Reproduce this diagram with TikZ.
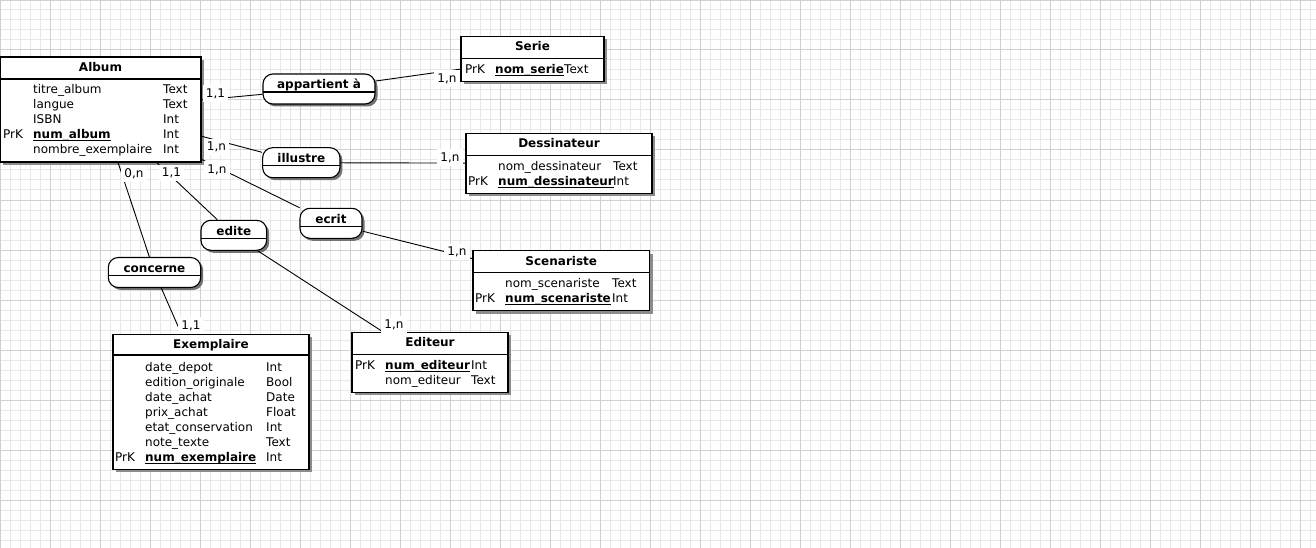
\documentclass[tikz,border=0pt]{standalone}
\usepackage{fontspec}
\setmainfont{DejaVu Sans}
\usetikzlibrary{shadows}
\newsavebox{\clebox}
\newcommand{\cle}[1]{\sbox{\clebox}{\textbf{#1}}\rlap{\rule[-2.4pt]{\wd\clebox}{1.1pt}}\usebox{\clebox}}
\newcommand{\attribut}[4]{\makebox[30pt][l]{#1}\makebox[#2pt][l]{#3}#4}

\begin{document}
\begin{tikzpicture}[x=1pt,y=-1pt,
  entite/.style={draw, line width=1.1pt, fill=white, inner sep=0pt,
    drop shadow={shadow xshift=3pt, shadow yshift=-3pt, fill=black!45, opacity=1}},
  assoc/.style={draw, line width=1.1pt, fill=white, rounded corners=10pt, inner sep=0pt,
    minimum height=30pt, text height=10pt, text depth=10pt,
    font=\fontsize{12}{15}\selectfont\bfseries,
    drop shadow={shadow xshift=2.5pt, shadow yshift=-2.5pt, fill=black!55, opacity=1}},
  titre/.style={anchor=base, inner sep=0pt, font=\fontsize{12}{15}\selectfont\bfseries},
  attr/.style={anchor=base west, inner sep=0pt, font=\fontsize{12}{15}\selectfont},
  card/.style={fill=white, inner xsep=3pt, inner ysep=3pt, font=\fontsize{12}{15}\selectfont},
  lien/.style={line width=0.9pt},
  trait/.style={line width=1.1pt}]

\useasboundingbox (0,0) rectangle (1316,548);

% Grille
\draw[black!9, line width=1pt, step=10pt] (0,548) grid (1316,0);
\draw[black!18, line width=1pt, step=50pt] (0,548) grid (1316,0);

% Entite Album
\node[entite, minimum width=201pt, minimum height=105pt] (album) at (100.5,109.5) {};
\node[titre] (album-titre) at (100.5,71.5) {Album};
\draw[trait] (0,79) -- (201,79);
\node[attr] (album-a1) at (3,94) {\attribut{}{130}{titre\_album}{Text}};
\node[attr] (album-a2) at (3,109) {\attribut{}{130}{langue}{Text}};
\node[attr] (album-a3) at (3,124) {\attribut{}{130}{ISBN}{Int}};
\node[attr] (album-a4) at (3,139) {\attribut{PrK}{130}{\cle{num\_album}}{Int}};
\node[attr] (album-a5) at (3,154) {\attribut{}{130}{nombre\_exemplaire}{Int}};

% Entite Serie
\node[entite, minimum width=143pt, minimum height=45pt] (serie) at (532.5,59) {};
\node[titre] (serie-titre) at (532.5,51) {Serie};
\draw[trait] (461,58.5) -- (604,58.5);
\node[attr] (serie-a1) at (465,73.5) {\attribut{PrK}{69}{\cle{nom\_serie}}{Text}};

% Entite Dessinateur
\node[entite, minimum width=186pt, minimum height=60pt] (dessinateur) at (559,163.3) {};
\node[titre] (dessinateur-titre) at (559,147.8) {Dessinateur};
\draw[trait] (466,155.3) -- (652,155.3);
\node[attr] (dessinateur-a1) at (468,170.3) {\attribut{}{115}{nom\_dessinateur}{Text}};
\node[attr] (dessinateur-a2) at (468,185.3) {\attribut{PrK}{115}{\cle{num\_dessinateur}}{Int}};

% Entite Scenariste
\node[entite, minimum width=176.5pt, minimum height=60pt] (scenariste) at (561.25,280.7) {};
\node[titre] (scenariste-titre) at (561.25,265.2) {Scenariste};
\draw[trait] (473,272.7) -- (649.5,272.7);
\node[attr] (scenariste-a1) at (475,287.7) {\attribut{}{107}{nom\_scenariste}{Text}};
\node[attr] (scenariste-a2) at (475,302.7) {\attribut{PrK}{107}{\cle{num\_scenariste}}{Int}};

% Entite Editeur
\node[entite, minimum width=156pt, minimum height=60pt] (editeur) at (430,362.3) {};
\node[titre] (editeur-titre) at (430,346.8) {Editeur};
\draw[trait] (352,354.3) -- (508,354.3);
\node[attr] (editeur-a1) at (355,369.3) {\attribut{PrK}{86}{\cle{num\_editeur}}{Int}};
\node[attr] (editeur-a2) at (355,384.3) {\attribut{}{86}{nom\_editeur}{Text}};

% Entite Exemplaire
\node[entite, minimum width=196pt, minimum height=135pt] (exemplaire) at (211,401.8) {};
\node[titre] (exemplaire-titre) at (211,348.8) {Exemplaire};
\draw[trait] (113,355) -- (309,355);
\node[attr] (exemplaire-a1) at (115,371.3) {\attribut{}{121}{date\_depot}{Int}};
\node[attr] (exemplaire-a2) at (115,386.3) {\attribut{}{121}{edition\_originale}{Bool}};
\node[attr] (exemplaire-a3) at (115,401.3) {\attribut{}{121}{date\_achat}{Date}};
\node[attr] (exemplaire-a4) at (115,416.3) {\attribut{}{121}{prix\_achat}{Float}};
\node[attr] (exemplaire-a5) at (115,431.3) {\attribut{}{121}{etat\_conservation}{Int}};
\node[attr] (exemplaire-a6) at (115,446.3) {\attribut{}{121}{note\_texte}{Text}};
\node[attr] (exemplaire-a7) at (115,461.3) {\attribut{PrK}{121}{\cle{num\_exemplaire}}{Int}};

% Associations
\node[assoc, minimum width=112pt] (appartient) at (319,89) {appartient à};
\draw[trait] (263,92) -- (375,92);
\node[assoc, minimum width=77.3pt] (illustre) at (301.3,162.7) {illustre};
\draw[trait] (262.7,165.8) -- (340,165.8);
\node[assoc, minimum width=62pt] (ecrit) at (331,223.3) {ecrit};
\draw[trait] (300,226.3) -- (362,226.3);
\node[assoc, minimum width=65.7pt] (edite) at (233.8,235.3) {edite};
\draw[trait] (201,238.3) -- (266.7,238.3);
\node[assoc, minimum width=92.4pt] (concerne) at (154.5,272.5) {concerne};
\draw[trait] (108.3,275.3) -- (200.7,275.3);

% Liens
\draw[lien] (album) -- (appartient);
\draw[lien] (appartient) -- (serie);
\draw[lien] (album) -- (illustre);
\draw[lien] (illustre) -- (dessinateur);
\draw[lien] (album) -- (ecrit);
\draw[lien] (ecrit) -- (scenariste);
\draw[lien] (album) -- (edite);
\draw[lien] (edite) -- (editeur);
\draw[lien] (album) -- (concerne);
\draw[lien] (concerne) -- (exemplaire);

% Cardinalites
\node[card] (card-album-appartient) at (215.5,93.5) {1,1};
\node[card] (card-serie) at (447,78.5) {1,n};
\node[card] (card-album-illustre) at (216.5,147) {1,n};
\node[card] (card-dessinateur) at (450,157.5) {1,n};
\node[card] (card-album-ecrit) at (217,169.5) {1,n};
\node[card] (card-scenariste) at (457,252) {1,n};
\node[card] (card-album-edite) at (171.5,173) {1,1};
\node[card] (card-editeur) at (394,324.5) {1,n};
\node[card] (card-album-concerne) at (134,173.5) {0,n};
\node[card] (card-exemplaire) at (191,325.5) {1,1};

\end{tikzpicture}
\end{document}
